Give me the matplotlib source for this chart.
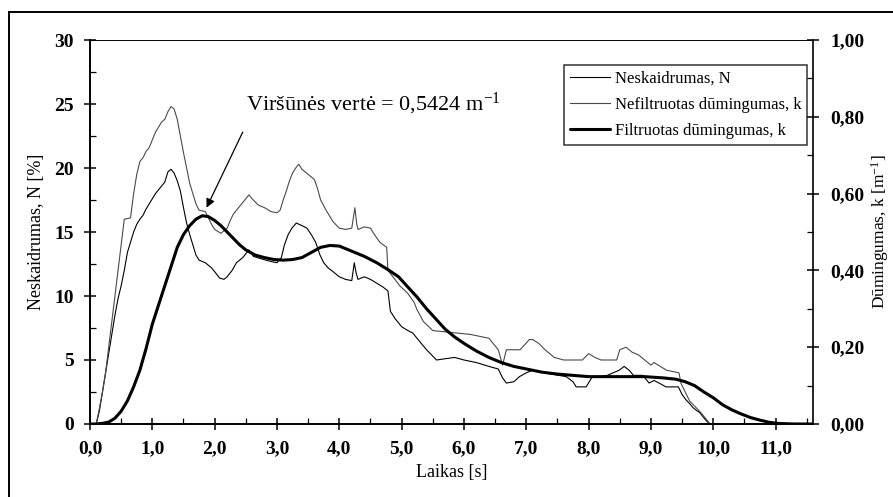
import matplotlib
matplotlib.use("Agg")
import matplotlib.pyplot as plt
from matplotlib.lines import Line2D
from matplotlib.ticker import MultipleLocator, FuncFormatter

plt.rcParams['font.family'] = ['Liberation Serif', 'DejaVu Serif']
plt.rcParams['mathtext.fontset'] = 'custom'
plt.rcParams['mathtext.rm'] = 'Liberation Serif'
plt.rcParams['mathtext.it'] = 'Liberation Serif:italic'

# --- data (left-axis units, % ; right axis k = value/30) ---
t_unfilt = [0.00, 0.10, 0.15, 0.20, 0.25, 0.30, 0.35, 0.40, 0.45, 0.50,
            0.55, 0.65, 0.70, 0.75, 0.80, 0.85, 0.90, 0.95, 1.00, 1.05,
            1.10, 1.15, 1.20, 1.25, 1.30, 1.35, 1.40, 1.45, 1.50, 1.55,
            1.60, 1.65, 1.70, 1.75, 1.85, 1.95, 2.00, 2.10, 2.20, 2.25,
            2.30, 2.40, 2.45, 2.55, 2.60, 2.70, 2.80, 2.90, 3.00, 3.05,
            3.10, 3.15, 3.20, 3.25, 3.30, 3.35, 3.40, 3.50, 3.60, 3.65,
            3.70, 3.80, 3.90, 4.00, 4.10, 4.20, 4.25, 4.28, 4.30, 4.40,
            4.50, 4.55, 4.65, 4.76, 4.78, 4.86, 4.97, 5.10, 5.20, 5.25,
            5.35, 5.50, 5.70, 5.90, 6.10, 6.40, 6.55, 6.62, 6.68, 6.75,
            6.90, 7.05, 7.10, 7.20, 7.30, 7.45, 7.60, 7.90, 8.00, 8.10,
            8.20, 8.45, 8.50, 8.60, 8.70, 8.80, 8.90, 9.00, 9.05, 9.15,
            9.25, 9.45, 9.48, 9.55, 9.62, 9.70, 9.78, 9.85, 9.90, 9.95]
v_unfilt = [0.0, 0.0, 1.2, 2.5, 4.0, 6.0, 8.0, 10.0, 12.0, 14.0,
            16.0, 16.1, 18.0, 19.5, 20.5, 20.8, 21.3, 21.6, 22.2, 22.8,
            23.2, 23.6, 23.8, 24.4, 24.8, 24.6, 23.8, 22.5, 21.2, 20.0,
            18.8, 18.0, 17.2, 16.7, 16.6, 15.6, 15.2, 14.9, 15.3, 15.9,
            16.4, 17.0, 17.3, 17.9, 17.6, 17.1, 16.9, 16.6, 16.5, 16.7,
            17.5, 18.2, 19.0, 19.6, 20.0, 20.3, 19.9, 19.5, 19.1, 18.4,
            17.5, 16.6, 15.8, 15.3, 15.2, 15.3, 16.9, 15.6, 15.2, 15.4,
            15.3, 14.9, 14.2, 13.8, 12.0, 11.5, 10.8, 10.2, 9.5, 8.9,
            8.0, 7.3, 7.2, 7.1, 7.0, 6.7, 5.8, 4.6, 5.8, 5.8,
            5.8, 6.6, 6.6, 6.3, 5.8, 5.2, 5.0, 5.0, 5.5, 5.2,
            5.0, 5.0, 5.8, 6.0, 5.6, 5.4, 5.0, 4.6, 4.8, 4.5,
            4.2, 4.0, 3.2, 2.5, 1.8, 1.4, 1.0, 0.6, 0.3, 0.0]

t_opac = [0.00, 0.10, 0.15, 0.20, 0.25, 0.30, 0.35, 0.40, 0.45, 0.50,
          0.55, 0.60, 0.65, 0.70, 0.75, 0.80, 0.85, 0.90, 0.95, 1.00,
          1.05, 1.10, 1.15, 1.20, 1.25, 1.30, 1.35, 1.40, 1.45, 1.50,
          1.55, 1.60, 1.65, 1.70, 1.75, 1.85, 1.95, 2.00, 2.08, 2.15,
          2.20, 2.28, 2.35, 2.45, 2.55, 2.62, 2.75, 2.90, 3.00, 3.07,
          3.12, 3.18, 3.24, 3.31, 3.40, 3.48, 3.55, 3.62, 3.69, 3.75,
          3.82, 3.90, 4.00, 4.10, 4.20, 4.24, 4.27, 4.30, 4.40, 4.50,
          4.60, 4.70, 4.78, 4.82, 4.90, 5.00, 5.10, 5.18, 5.28, 5.40,
          5.50, 5.56, 5.70, 5.85, 6.00, 6.20, 6.40, 6.55, 6.62, 6.68,
          6.80, 6.89, 7.00, 7.10, 7.20, 7.40, 7.64, 7.75, 7.80, 7.96,
          8.06, 8.17, 8.30, 8.49, 8.57, 8.65, 8.72, 8.87, 8.97, 9.05,
          9.13, 9.24, 9.44, 9.50, 9.56, 9.62, 9.67, 9.72, 9.78, 9.88, 9.94]
v_opac = [0.0, 0.0, 1.0, 2.5, 4.0, 5.5, 7.0, 8.5, 9.8, 10.8,
          12.0, 13.4, 14.2, 15.0, 15.6, 16.0, 16.3, 16.8, 17.2, 17.6,
          18.0, 18.3, 18.6, 18.9, 19.7, 19.9, 19.6, 19.0, 18.2, 16.9,
          15.7, 14.8, 14.0, 13.2, 12.8, 12.6, 12.2, 11.9, 11.4, 11.3,
          11.5, 12.0, 12.6, 13.0, 13.6, 13.1, 12.9, 12.7, 12.6, 13.0,
          14.0, 14.8, 15.3, 15.7, 15.5, 15.3, 14.8, 14.2, 13.2, 12.6,
          12.2, 11.9, 11.5, 11.3, 11.2, 12.6, 11.8, 11.3, 11.5, 11.3,
          11.0, 10.7, 10.4, 8.8, 8.2, 7.6, 7.3, 7.1, 6.5, 5.8,
          5.3, 5.0, 5.1, 5.2, 5.0, 4.8, 4.5, 4.3, 3.6, 3.2,
          3.3, 3.7, 4.0, 4.2, 4.1, 3.9, 3.7, 3.3, 2.9, 2.9,
          3.7, 3.7, 3.8, 4.2, 4.5, 4.2, 3.8, 3.8, 3.2, 3.4,
          3.2, 2.9, 2.9, 2.3, 1.9, 1.6, 1.3, 1.1, 0.9, 0.3, 0.0]

t_filt = [0.00, 0.10, 0.20, 0.30, 0.40, 0.50, 0.60, 0.70, 0.80, 0.90,
          1.00, 1.10, 1.20, 1.30, 1.40, 1.50, 1.60, 1.70, 1.80, 1.90,
          2.00, 2.10, 2.20, 2.30, 2.40, 2.50, 2.65, 2.80, 2.95, 3.10,
          3.25, 3.40, 3.55, 3.70, 3.85, 4.00, 4.20, 4.40, 4.60, 4.80,
          4.95, 5.10, 5.25, 5.40, 5.55, 5.70, 5.85, 6.00, 6.20, 6.40,
          6.60, 6.80, 7.00, 7.25, 7.50, 7.75, 8.00, 8.50, 8.90, 9.20,
          9.40, 9.55, 9.70, 9.85, 10.00, 10.15, 10.30, 10.45, 10.60, 10.75,
          10.90, 11.05, 11.30, 11.60]
v_filt = [0.0, 0.0, 0.05, 0.15, 0.45, 1.0, 1.8, 2.9, 4.2, 5.9,
          7.8, 9.3, 10.8, 12.3, 13.8, 14.8, 15.5, 16.0, 16.27, 16.2,
          15.9, 15.5, 15.0, 14.5, 14.0, 13.6, 13.2, 13.0, 12.85, 12.8,
          12.85, 13.0, 13.4, 13.8, 13.95, 13.9, 13.5, 13.1, 12.6, 12.0,
          11.5, 10.7, 9.9, 9.0, 8.2, 7.4, 6.8, 6.3, 5.7, 5.2,
          4.8, 4.5, 4.3, 4.05, 3.9, 3.8, 3.7, 3.7, 3.7, 3.6,
          3.5, 3.3, 3.0, 2.5, 2.05, 1.5, 1.1, 0.78, 0.5, 0.3,
          0.13, 0.04, 0.0, 0.0]

series_labels = ["Neskaidrumas, N", "Nefiltruotas dūmingumas, k",
                 "Filtruotas dūmingumas, k"]
annot_text = "Viršūnės vertė = 0,5424 m$^{-1}$"
arrow_head = (1.87, 16.9)
arrow_tail = (2.45, 22.8)
annot_pos = (2.50, 25.0)

W, H = 893, 497
fig = plt.figure(figsize=(W / 100, H / 100), dpi=100)
ax = fig.add_axes([90 / W, 1 - 424 / H, (813 - 90) / W, (424 - 40) / H])

l1, = ax.plot(t_opac, v_opac, color='black', lw=0.8)
l2, = ax.plot(t_unfilt, v_unfilt, color='#4a4a4a', lw=0.8)
l3, = ax.plot(t_filt, v_filt, color='black', lw=2.2, solid_capstyle='round')

ax.set_xlim(0, 11.6)
ax.set_ylim(0, 30)
ax.xaxis.set_major_locator(MultipleLocator(1))
ax.xaxis.set_minor_locator(MultipleLocator(0.5))
ax.yaxis.set_major_locator(MultipleLocator(5))
ax.yaxis.set_minor_locator(MultipleLocator(2.5))
ax.xaxis.set_major_formatter(FuncFormatter(lambda v, p: f"{v:.1f}".replace('.', ',')))
ax.yaxis.set_major_formatter(FuncFormatter(lambda v, p: f"{v:.0f}"))

ax.tick_params(which='major', direction='inout', length=9, width=1.1, pad=7, labelsize=14)
ax.tick_params(which='minor', direction='in', length=4, width=0.9)
ax.tick_params(axis='y', which='both', right=False)
ax.tick_params(axis='x', which='both', top=False)
for lab in ax.get_xticklabels() + ax.get_yticklabels():
    lab.set_fontweight('bold')

for s in ['left', 'bottom']:
    ax.spines[s].set_linewidth(1.4)
ax.spines['top'].set_linewidth(0.7)
ax.spines['right'].set_linewidth(1.2)

ax.set_xlabel("Laikas [s]", fontsize=13, labelpad=5)
ax.set_ylabel("Neskaidrumas, N [%]", fontsize=13, labelpad=7)

ax2 = ax.twinx()
ax2.set_ylim(0, 1)
ax2.yaxis.set_major_locator(MultipleLocator(0.2))
ax2.yaxis.set_minor_locator(MultipleLocator(0.1))
ax2.yaxis.set_major_formatter(FuncFormatter(lambda v, p: f"{v:.2f}".replace('.', ',')))
ax2.tick_params(which='major', direction='inout', length=9, width=1.1, pad=8, labelsize=14)
ax2.tick_params(which='minor', direction='in', length=4, width=0.9)
for lab in ax2.get_yticklabels():
    lab.set_fontweight('bold')
for s in ax2.spines.values():
    s.set_visible(False)
ax2.set_ylabel("Dūmingumas, k [m$^{-1}$]", fontsize=12.5, labelpad=3)

ax.text(annot_pos[0], annot_pos[1], annot_text, fontsize=16, va='center', ha='left')
ax.annotate('', xy=arrow_head, xytext=arrow_tail,
            arrowprops=dict(arrowstyle='-|>', color='black', lw=0.9,
                            mutation_scale=13, shrinkA=0, shrinkB=0))

leg = ax.legend([l1, l2, l3], series_labels, loc='upper right',
                bbox_to_anchor=(0.992, 0.935), fontsize=12, frameon=True,
                fancybox=False, edgecolor='black', handlelength=2.4,
                handletextpad=0.3, borderpad=0.35, labelspacing=0.6,
                borderaxespad=0.0)
leg.get_frame().set_linewidth(1.1)

# outer frame
fig.add_artist(Line2D([9 / W, 9 / W], [0, 1 - 12 / H], color='black', lw=1.4))
fig.add_artist(Line2D([9 / W, 1], [1 - 12 / H, 1 - 12 / H], color='black', lw=1.4))

fig.savefig("out.png", dpi=100, facecolor='white')
